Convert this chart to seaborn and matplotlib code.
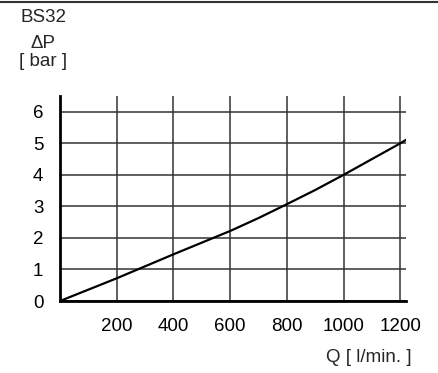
import matplotlib
matplotlib.use("Agg")
import matplotlib.pyplot as plt
from matplotlib.lines import Line2D
import seaborn as sns
import pandas as pd

# Druckverlust BS32
durchfluss = [0, 100, 200, 300, 400, 500, 600, 700, 800, 900, 1000, 1100, 1200, 1222]
druck = [0, 0.36, 0.72, 1.1, 1.48, 1.85, 2.22, 2.63, 3.07, 3.52, 4.0, 4.5, 5.0, 5.12]
x_ticks = [200, 400, 600, 800, 1000, 1200]
y_ticks = [0, 1, 2, 3, 4, 5, 6]

df = pd.DataFrame({"Q": durchfluss, "dP": druck})

sns.set_style("white")
plt.rcParams["font.family"] = ["Liberation Sans", "DejaVu Sans"]
fs = 13.5

fig = plt.figure(figsize=(4.38, 3.73), dpi=100)
ax = fig.add_axes([60 / 438, 1 - 301 / 373, 346 / 438, 205 / 373])

sns.lineplot(data=df, x="Q", y="dP", ax=ax, color="black", linewidth=1.6)

ax.set_xlim(0, 1220)
ax.set_ylim(0, 6.5)
ax.set_xticks(x_ticks)
ax.set_yticks(y_ticks)
ax.grid(True, color="#333333", linewidth=1.1)
ax.tick_params(length=0, labelsize=fs, colors="black")
ax.tick_params(axis="x", pad=12)
ax.tick_params(axis="y", pad=12)
ax.set_xlabel("")
ax.set_ylabel("")
for s in ["top", "right"]:
    ax.spines[s].set_visible(False)
for s in ["left", "bottom"]:
    ax.spines[s].set_color("black")
    ax.spines[s].set_linewidth(2)

fig.text(43 / 438, 1 - 17 / 373, "BS32", ha="center", va="center", fontsize=fs)
fig.text(43 / 438, 1 - 43 / 373, "ΔP", ha="center", va="center", fontsize=fs)
fig.text(43 / 438, 1 - 62 / 373, "[ bar ]", ha="center", va="center", fontsize=fs)
fig.text(412 / 438, 1 - 358 / 373, "Q [ l/min. ]", ha="right", va="center", fontsize=fs)

fig.add_artist(Line2D([0, 1], [1 - 1.5 / 373, 1 - 1.5 / 373], color="#333333", linewidth=1.5,
                      transform=fig.transFigure))

fig.savefig("out.png", dpi=100)
